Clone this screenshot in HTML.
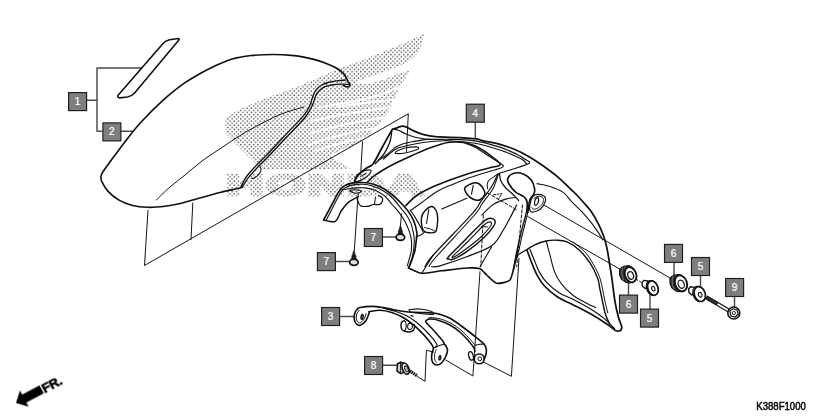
<!DOCTYPE html>
<html lang="en">
<head>
<meta charset="utf-8">
<title>Front fender parts diagram K388F1000</title>
<style>
html,body{margin:0;padding:0;background:#fff;}
body{width:840px;height:420px;overflow:hidden;font-family:"Liberation Sans",sans-serif;}
svg{display:block;}
.n{font-family:"Liberation Sans",sans-serif;font-size:10px;fill:#fff;stroke:#fff;stroke-width:0.22px;}
.code{font-family:"Liberation Sans",sans-serif;font-size:10.5px;fill:#000;stroke:#000;stroke-width:0.45px;}
.fr{font-family:"Liberation Sans",sans-serif;font-size:13px;font-weight:bold;fill:#000;}
.wm{font-family:"Liberation Sans",sans-serif;font-weight:bold;font-size:30px;}
</style>
</head>
<body>
<svg width="840" height="420" viewBox="0 0 840 420">
<defs>
<pattern id="dots" x="0" y="0" width="4.286" height="4.286" patternUnits="userSpaceOnUse">
<circle cx="2.88" cy="1" r="0.74" fill="#484848"/>
<circle cx="0.74" cy="3.14" r="0.74" fill="#484848"/>
</pattern>
</defs>
<rect width="840" height="420" fill="#fff"/>
<g id="watermark">

<path d="M225.5 118L236.4 111.1L247.2 105.7L257.9 101.4L268.6 97.1L279.3 93.4L290 89.3L300.7 85.4L310.8 80.8L323.3 75.8L333.3 70.9L345.4 66.3L361.4 60.4L382.9 51.8L404.3 43.2L424.4 33.8L419.3 50.7L414 57.1L411 60.5L409.8 70.4L405 78.9L400.7 84.3L398.3 87L397.3 92.5L394.5 99.5L391.8 103L390.5 107L389 111L384 117.3L381.2 121.4L376 127.8L374.6 129.5L369 135.5L366 137.2L361.5 142L352 146L340 150L330 156L338 161.5L351 168.6L293.6 169.4L262 169.8L245 153L225.6 133.5Z" fill="url(#dots)"/>
<path d="M355 82.3L366.8 77.5L374.3 75.4L382.9 72.2L391.4 68.9L400 65.7L408.6 61.4L413 58L412.5 70.2L409.5 70.8L398.6 73.8L387.9 78.1L377.2 81.3L370.7 83.4L362.2 84.4Z" fill="#fff"/>
<g fill="none" stroke="#fff" stroke-width="2.1" stroke-linecap="round">
<path d="M399 86.6L385.7 92.8L368.6 98.2L351.4 101.9L338 104L318 108"/>
<path d="M395.5 99.8L373.3 101.9L352.4 104.6L338 106.6"/>
<path d="M391.5 107L373 109.6L352.4 113L332.7 116.4L312 121"/>
<path d="M385 117.5L365 120.6L345.8 124.2L325 129.2L310 133.5"/>
<path d="M377 128L358.9 130.7L340 135.2L322 140.2L308 145"/>
<path d="M367 137.5L350 140.5L332 145.5L316 150.5"/>
</g>
<mask id="hondamask" maskUnits="userSpaceOnUse" x="215" y="165" width="220" height="40"><text class="wm" transform="translate(226.5 195.2) scale(1.7 0.97)" letter-spacing="1.4" fill="#fff" stroke="#fff" stroke-width="3" stroke-linejoin="miter">HONDA</text></mask>
<rect x="220" y="170" width="210" height="30" fill="url(#dots)" mask="url(#hondamask)"/>

</g>
<g id="lines" fill="none" stroke="#111" stroke-linecap="round" stroke-linejoin="round">
<path d="M87 100.3L97 100.3" stroke-width="1.43" stroke="#4a4a4a"/>
<path d="M141.3 68L97 68L97 131.3L102 131.3" stroke-width="1.43" stroke="#4a4a4a"/>
<path d="M120.5 131.3L132.5 131.3" stroke-width="1.43" stroke="#4a4a4a"/>
<path d="M475.3 122.5L475.3 137.5" stroke-width="1.43" stroke="#4a4a4a"/>
<path d="M340 316.5L354 316.5" stroke-width="1.43" stroke="#4a4a4a"/>
<path d="M383 365.3L397 365.3" stroke-width="1.43" stroke="#4a4a4a"/>
<path d="M383 237L396 237" stroke-width="1.43" stroke="#4a4a4a"/>
<path d="M336 261.5L349.5 261.5" stroke-width="1.43" stroke="#4a4a4a"/>
<path d="M628.5 283L628.5 295.5" stroke-width="1.43" stroke="#4a4a4a"/>
<path d="M650 294.5L650 309.2" stroke-width="1.43" stroke="#4a4a4a"/>
<path d="M674 262.5L674 275.5" stroke-width="1.43" stroke="#4a4a4a"/>
<path d="M700.5 275.5L700.5 286.7" stroke-width="1.43" stroke="#4a4a4a"/>
<path d="M734.5 296.3L734.5 307.5" stroke-width="1.43" stroke="#4a4a4a"/>
<path d="M178.4 38.5L169.5 39.8Q165 40.9 162.6 44L118.1 95.2Q116.9 97.3 119.5 97.9L127.5 97Q132 96 134.6 93L178.9 40Q179.6 38.7 178.4 38.5Z" stroke-width="1.59"/>
<path d="M242.5 186.5C242.1 186.8 243.8 187 240 188C236.2 189 227.9 190.5 220 192.5C212.1 194.5 199.5 198.1 192.5 200C185.5 201.9 182.6 203 178 204C173.4 205 170.1 205.6 165 206.2C159.9 206.8 153 207.5 147.4 207.3C141.8 207.1 136.4 206.4 131.6 205.2C126.8 204 122.5 202.2 118.6 199.9C114.7 197.6 110.8 194.3 108.1 191.4C105.4 188.5 103.4 184.7 102.2 182.3C101 179.9 100.8 178.8 100.9 177C101 175.2 101.2 174.6 102.9 171.8C104.7 169 107.5 165.3 111.4 160C115.3 154.7 121.4 146.4 126.4 140C131.4 133.6 135.3 128.4 141.4 121.8C147.5 115.2 155.8 106.8 162.9 100.4C170.1 94 177.2 88.2 184.3 83.2C191.4 78.2 198.6 74.2 205.7 70.4C212.8 66.7 221.4 62.9 227.1 60.7C232.8 58.5 235.9 58.1 240 57.2C244.1 56.3 245.9 56 251.4 55.5C256.9 55 265.8 54.5 272.9 54.5C280 54.5 288.9 55.1 294.3 55.6C299.7 56.1 301.4 56.7 305 57.4C308.6 58.1 311.9 58.8 315.7 59.9C319.4 61 324 62.5 327.5 63.9C331 65.3 334.1 66.7 336.7 68.3C339.3 69.9 341.6 71.6 343.3 73.3C345 75 345.9 76.9 346.7 78.3C347.4 79.7 347.3 80.8 347.8 81.7C348.3 82.6 349.4 83.1 349.7 83.8C350 84.5 350.1 85.3 349.7 85.8C349.3 86.3 348.6 87.1 347.5 87C346.4 86.9 344 85.7 343.3 85.4" stroke-width="1.65"/>
<path d="M345.5 80C344 80.1 339.6 80.4 336.7 80.8C333.8 81.2 330.8 81.8 328.3 82.5C325.8 83.2 323.6 83.9 321.7 85C319.8 86.1 318.1 87.5 316.7 89.2C315.3 90.9 314.4 92.4 313.3 95C312.2 97.6 311.7 101.5 310 105C308.3 108.5 307.8 110.5 303.3 115.9C298.9 121.3 289.6 130.5 283.3 137.2C277.1 143.9 270.4 151.1 265.8 155.9C261.2 160.7 259.1 162.3 255.8 165.9C252.5 169.5 248.3 173.9 245.8 177.5C243.3 181.1 241.6 185.7 240.8 187.3" stroke-width="1.32"/>
<path d="M348.3 84.4C346.9 84.4 342.8 84.1 340 84.2C337.2 84.3 334.2 84.6 331.7 85C329.2 85.4 327.1 85.7 325 86.7C322.9 87.7 320.7 89.3 319.2 90.8C317.7 92.3 316.9 93.1 315.8 95.5C314.7 97.9 314.3 101.3 312.5 105C310.7 108.7 309.6 111.9 305 117.5C300.4 123.1 291.2 132.1 285 138.8C278.8 145.5 272.1 152.7 267.5 157.5C262.9 162.3 260.8 163.9 257.5 167.5C254.2 171.1 249.9 175.7 247.5 178.8C245.1 181.9 243.6 185.1 242.8 186.3" stroke-width="1.32"/>
<path d="M260 166.5C260.2 167.1 261.3 168.6 261 170C260.7 171.4 259.6 173.6 258.3 175C257.1 176.4 254.6 177.6 253.5 178.2C252.4 178.8 252.1 178.3 251.8 178.3" stroke-width="1.10"/>
<path d="M156.3 200C158.6 197.8 165.2 191.2 170 187C174.8 182.8 179.7 179.3 185 175C190.3 170.7 196.2 165.4 202 161C207.8 156.6 214.2 152.7 220 148.8C225.8 144.9 231.2 141.1 237 137.5C242.8 133.9 247.8 130.8 255 127C262.2 123.2 271.9 117.8 280 114.5C288.1 111.2 299.8 108.2 303.8 107" stroke-width="0.99"/>
<path d="M148 210.5L144.5 265.5L408.3 113.7L406.5 151.5" stroke-width="0.99"/>
<path d="M192.8 203L191 239.5" stroke-width="0.99"/>
<path d="M362.5 141.7L360.8 171.7" stroke-width="0.99"/>
<path d="M354.6 182C354.7 181.6 354.7 180.8 355.2 179.8C355.7 178.8 356.4 177.2 357.5 175.8C358.6 174.5 360 173.1 361.7 171.7C363.4 170.3 365.6 168.8 367.5 167.5C369.4 166.2 370.8 167 373.2 163.8C375.6 160.6 378.6 153.9 381.7 148.3C384.8 142.8 389.6 133.7 391.7 130.5C393.8 127.3 392.4 129.7 394 129C395.6 128.3 399.2 126.6 401.2 126.3C403.2 126 403.8 126.1 406 126.9C408.2 127.7 411.3 129.8 414.3 131.1C417.3 132.4 420.2 133.7 423.8 134.6C427.4 135.5 431.3 136.2 435.7 136.7C440.1 137.1 445.4 137.1 450 137.3C454.6 137.5 458.9 137.6 463.3 137.8C467.7 138.1 472.9 138.3 476.2 138.8C479.5 139.3 479.3 139.9 483.3 140.8C487.3 141.7 494.8 142.9 500 144.3C505.2 145.7 509.5 147.3 514.3 149.3C519.1 151.3 523.8 153.7 528.6 156.4C533.4 159.1 538.1 162.4 542.9 165.7C547.6 169 552.8 172.8 557.1 176.4C561.4 180 565.3 184 568.6 187.1C571.9 190.2 574.2 192.3 576.8 195C579.4 197.7 581.6 200.2 584 203C586.4 205.8 588.8 208 591.2 211.6C593.6 215.2 596.7 220.5 598.6 224.3C600.5 228.1 601.7 231.2 602.9 234.3C604.1 237.4 605 240.3 605.7 242.9C606.4 245.5 606.7 246.8 607.3 250C607.9 253.2 608.6 257.5 609.3 262C610 266.5 610.8 270.4 611.7 277C612.7 283.6 613.9 295.1 615 301.7C616.1 308.3 617.2 312.5 618.3 316.7C619.4 320.9 621.3 324.4 621.7 326.7C622.1 329 620.7 329.9 620.5 330.5" stroke-width="1.76"/>
<path d="M391.7 131C391.6 131.9 391.5 134.3 391.1 136.4C390.7 138.5 390.4 140.8 389.3 143.6C388.2 146.4 386.3 150.3 384.5 153.1C382.7 155.9 380.2 158.4 378.6 160.2C377 162 375.6 163.2 375 163.8" stroke-width="1.32"/>
<path d="M394 129.3C394.8 129.5 396.8 129.7 398.8 130.5C400.8 131.3 403.4 132.9 406 134C408.6 135.1 411.3 136.2 414.3 137C417.3 137.8 420.2 138.4 423.8 138.8C427.4 139.2 431.3 139.3 435.7 139.4C440.1 139.5 443.4 139.1 450 139.3C456.6 139.5 466.7 139.5 475 140.8C483.3 142.1 493.1 145 500 147.2C506.9 149.4 512.5 152.2 516.7 154.2C520.9 156.2 523.1 157.6 525 159.2C526.9 160.8 532.1 161.6 528.3 163.8C524.4 166 506.9 170.8 501.9 172.5C496.9 174.2 499.3 173.1 498.3 174C497.3 174.9 497 176.2 496 178.1C495 180 493.8 182.8 492.4 185.2C491 187.6 489 190.4 487.6 192.4C486.2 194.4 485.2 195.5 484 197.1C482.8 198.7 482.5 199.1 480.5 201.9C478.5 204.7 480 205 472.1 213.8C464.2 222.7 441.2 246.2 433.3 255C425.4 263.8 426.4 264.8 425 266.7" stroke-width="1.21"/>
<path d="M378.6 160.2C379.8 159.4 383.3 157.3 385.7 155.5C388.1 153.7 391.3 150.8 392.9 149.5C394.4 148.2 393.3 148.5 395 147.6C396.7 146.7 400.5 144.8 403.3 143.8C406.1 142.8 408.5 142.4 411.7 141.8C414.9 141.1 419.4 140.5 422.5 140.1C425.6 139.7 428.8 139.4 430 139.3" stroke-width="1.10"/>
<path d="M383.3 159.1C385.3 157.5 391.8 151.6 395.2 149.5C398.6 147.4 399.2 147.6 403.6 146.5C408 145.4 415.3 143.7 421.4 142.8C427.5 141.9 435.2 141.3 440 141C444.8 140.7 444.2 140.4 450 140.8C455.8 141.2 466.7 141.8 475 143.3C483.3 144.8 493.1 147.8 500 150C506.9 152.2 512.9 155 516.7 156.7C520.5 158.4 521.3 158.8 523 160C524.7 161.2 526.1 163.5 526.7 164.2" stroke-width="1.10"/>
<path d="M395.2 152.7C395.4 152.2 395.8 151.5 397.6 150.7C399.4 149.9 402.8 148.3 406 147.7C409.2 147.1 414.6 146.8 416.7 146.9C418.8 147 418.7 147.7 418.8 148.1C418.9 148.5 418.6 149 417.5 149.5C416.4 150 414.2 150.7 411.9 151.3C409.6 151.9 406.2 152.9 403.6 153.3C401 153.7 397.8 153.6 396.4 153.5C395 153.4 395 153.2 395.2 152.7Z" stroke-width="1.10"/>
<path d="M367.6 181.9C368.6 181 370.7 178.5 373.3 176.5C375.9 174.5 379.6 172.1 383.1 170C386.6 167.9 389.9 166.1 394.5 163.8C399.1 161.5 405.5 158.5 411 156C416.5 153.5 422.5 150.8 427.5 148.8C432.5 146.8 437.4 145.3 441 144.2C444.6 143.1 446.9 142.7 449.2 142.3C451.5 141.9 452.5 141.9 455 141.9C457.5 141.9 461 141.8 464.3 142.4C467.6 143.1 471.8 144.5 475 145.8C478.2 147.2 480.6 148.8 483.3 150.5C486 152.2 488.5 153.9 491 155.8C493.5 157.7 496.8 160.3 498.3 161.7C499.8 163.1 500.2 163.5 500.2 164.2C500.2 164.9 499.8 165.5 498.3 166C496.8 166.5 493.7 166.7 491.2 167.3C488.7 167.9 487.4 168.2 483.3 169.4C479.2 170.6 472.2 172.4 466.7 174.2C461.1 176 455.6 177.9 450 180C444.4 182.1 438.6 184.2 433 186.8C427.4 189.4 421.2 192.3 416.7 195.5C412.1 198.7 407.5 204 405.7 205.7" stroke-width="1.54"/>
<path d="M463.3 142.6C465.2 143.4 470.8 145 475 147.2C479.2 149.4 483.9 153 488.3 155.8C492.8 158.6 499.2 162.4 501.7 164.2C504.1 166 503.4 165.8 503 166.5C502.6 167.2 502.8 167.4 499.5 168.5C496.2 169.6 488.8 171.6 483.3 173.3C477.8 175 472.1 176.8 466.7 178.7C461.3 180.6 456.1 182.9 451.2 185C446.2 187.1 442 188.5 437 191.5C432 194.5 425.4 199.8 421 203C416.6 206.2 412.2 209.2 410.5 210.5" stroke-width="1.10"/>
<path d="M323.6 220C325 217.4 329.3 209.3 331.9 204.5C334.5 199.7 337 194.5 339 191.4C341 188.3 341.6 187.5 343.8 186.1C346 184.7 348.9 183.7 352.1 183.1C355.3 182.5 359.3 182.3 362.9 182.5C366.5 182.7 370 183.2 373.6 184.3C377.2 185.4 380.9 187 384.3 189C387.7 191 390.6 193.4 393.8 196.2C397 199 401 202.9 403.6 205.7C406.2 208.5 407.6 210.4 409.3 212.9C411 215.4 412.5 218.3 413.6 220.7C414.7 223.1 415.1 224.8 415.7 227.1C416.3 229.4 416.9 232 417 234.3C417.1 236.6 416.5 238.4 416.2 241C415.9 243.6 415.5 247.5 415 250C414.5 252.5 414 253.5 413.2 256C412.4 258.5 410.8 263 410 265C409.2 267 408.8 267.3 408.5 267.8" stroke-width="1.65"/>
<path d="M326 220.5C327.3 218 331.3 210.2 333.7 205.7C336.1 201.1 338.3 196.2 340.2 193.2C342.1 190.2 342.8 189.3 345 187.9C347.2 186.5 350.3 185.5 353.3 184.9C356.3 184.3 359.7 184.1 362.9 184.3C366.1 184.5 369 185 372.4 186.1C375.8 187.2 379.7 188.8 383.1 190.8C386.5 192.8 389.7 195.2 392.6 198C395.5 200.8 398.4 205.1 400.7 207.9C403 210.7 404.7 212.5 406.4 215C408.1 217.5 409.6 220.2 410.7 222.9C411.8 225.6 412.5 228.6 413.1 231.4C413.7 234.2 414.2 236.9 414.3 240C414.4 243.1 414 247 413.6 250C413.2 253 412.8 255.2 412 258C411.2 260.8 409.5 265.1 409 266.5" stroke-width="1.10"/>
<path d="M342.6 189.6C343.4 189.5 345.2 189.3 347.4 189C349.6 188.7 352.7 188.1 355.7 187.9C358.7 187.7 362 187.5 365.2 187.9C368.4 188.3 371.6 188.9 374.8 190.2C378 191.5 381.4 193.2 384.3 195.6C387.2 198 389.6 201.6 392.1 204.5C394.6 207.4 397.2 210.1 399.3 212.9C401.4 215.7 403.3 218.3 405 221.4C406.7 224.5 408.2 228.3 409.3 231.4C410.4 234.5 411 236.9 411.4 240C411.8 243.1 411.6 247.3 411.4 250C411.2 252.7 410.7 253.8 410 256.4C409.3 259 407.8 264 407.4 265.5" stroke-width="1.10"/>
<path d="M323.6 220C325.6 220.2 332.3 222.9 335.3 221.3C338.3 219.7 339.2 213.7 341.4 210.5C343.6 207.3 346.2 204.2 348.6 202.1C351 200 354.1 198.9 355.7 198C357.3 197.1 358 196.8 358.5 196.5" stroke-width="1.43"/>
<path d="M349.8 191C349.6 190.4 353 189.8 355 189.8C357 189.8 361.5 190.6 361.7 191.2C361.9 191.8 358 193.2 356 193.2C354 193.2 350 191.6 349.8 191Z" stroke-width="1.10"/>
<path d="M356.9 198.6C357.5 199.8 358.7 204.4 360.5 205.7C362.3 207 365.4 206.5 367.6 206.3C369.8 206.1 371.6 204.8 373.6 204.5C375.6 204.2 378 205.1 379.5 204.5C381 203.9 382.1 202.2 382.5 201C382.9 199.8 382.6 198.3 381.9 197.4C381.2 196.5 378.9 195.9 378.3 195.6" stroke-width="1.21"/>
<path d="M375.5 197L374.5 204.3" stroke-width="0.99"/>
<path d="M355 180.5C354.9 179.4 356 176.6 357.5 175C359 173.4 361.8 171.8 364 171C366.2 170.2 369.9 169.8 370.8 170.3C371.7 170.8 370.6 172.6 369.5 174C368.4 175.4 365.9 177.3 364 178.5C362.1 179.7 359.5 181 358 181.3C356.5 181.6 355.1 181.6 355 180.5Z" stroke-width="1.10"/>
<path d="M360.5 176.5L366.5 173" stroke-width="0.99"/>
<path d="M358.1 193.8L354.3 250.8" stroke-width="0.99"/>
<path d="M401.5 214L400.4 226" stroke-width="0.99"/>
<path d="M465 187.6C466.3 186.1 470.9 183.5 473.3 182.9C475.7 182.3 477.5 182.8 479.3 184C481.1 185.2 483.1 188.2 484 190C484.9 191.8 485.2 193.2 484.6 194.8C484 196.4 482 198.6 480.5 199.5C479 200.4 477.5 200.5 475.7 200.1C473.9 199.7 471.5 198.5 469.8 197.1C468.1 195.7 466.4 193.4 465.6 191.8C464.8 190.2 463.7 189.1 465 187.6Z" stroke-width="1.54"/>
<path d="M473.3 185.2L471.5 194.2" stroke-width="1.10"/>
<path d="M431.5 206.5C433.3 206.3 434.8 208.3 435.8 210C436.8 211.7 437.4 214 437.6 216.7C437.8 219.4 437.6 223.4 437.2 226C436.8 228.6 436.6 230.9 435.3 232C434 233.1 431.4 232.9 429.5 232.8C427.6 232.7 425.5 232.4 424.2 231.2C422.9 230 422.1 227.9 421.7 225.5C421.3 223.1 421.1 219.4 421.6 217C422.1 214.6 423.2 212.8 424.8 211C426.4 209.2 429.7 206.7 431.5 206.5Z" stroke-width="1.43"/>
<path d="M410 210C410.8 211.2 413.2 214.2 415 217.1C416.8 219.9 419.4 224.7 420.7 227.1C422 229.5 422.5 230.7 422.9 231.4" stroke-width="1.10"/>
<path d="M415.9 237C416.7 236.7 419.3 235.8 420.7 235C422.1 234.2 423.9 232.5 424.5 232" stroke-width="1.10"/>
<path d="M428.8 209.5L426.5 223.5" stroke-width="1.10"/>
<path d="M424.5 227.5C425.5 227.8 428.8 228.4 430.5 229C432.2 229.6 434.2 230.9 435 231.3" stroke-width="0.99"/>
<path d="M441.8 209L466.8 198.3" stroke-width="1.10"/>
<path d="M498.3 174.5C497.5 176.7 495.2 184.2 493.6 187.6C492 191 490.8 192 488.8 194.8C486.8 197.6 484.1 200.9 481.7 204.3C479.3 207.7 482.1 206.2 474.5 215C466.9 223.8 443.6 248.4 436 257C428.4 265.6 430.2 264.9 429 266.5" stroke-width="1.10"/>
<path d="M499.3 173.4C498.5 173.9 496.2 175.1 494.5 176.3C492.8 177.5 490 179.1 488.8 180.5C487.6 181.9 487.4 183.1 487.2 184.5C487 185.9 487.5 188.1 487.6 188.8" stroke-width="1.04"/>
<path d="M499.5 173.9C499.7 175 499.8 178.3 500.7 180.5C501.6 182.7 503.1 184.9 504.9 187C506.7 189.1 509.5 191.2 511.4 193C513.3 194.8 515 196.4 516.2 197.7C517.4 199 518.2 200.2 518.6 200.7" stroke-width="1.21"/>
<path d="M481.7 215C483.7 213.2 489.4 207 493.6 204.3C497.8 201.6 502.9 200 506.7 198.9C510.5 197.8 514.6 197.9 516.2 197.7" stroke-width="1.10"/>
<path d="M527 210C527 208.6 527.5 203.9 527 201.7C526.5 199.5 525.9 198.5 524 196.9C522.1 195.3 518.2 194.2 515.7 192.1C513.2 189.9 510.3 186.3 509 184C507.7 181.7 507.1 179.9 507.9 178.1C508.7 176.3 511.2 174 513.8 173.3C516.4 172.6 520.3 172.7 523.3 173.9C526.3 175.1 529.8 178 531.7 180.5C533.6 183 534.2 186.6 534.6 188.8C535 191 534.6 192.2 534 193.6C533.4 195 532 196.2 531.2 197.5C530.4 198.8 530 199.2 529.4 201.7C528.8 204.2 528.1 210.6 527.8 212.4" stroke-width="1.65"/>
<path d="M527 210C526.9 210.4 527.1 209.8 526.4 212.4C525.7 215 523.9 221.7 522.9 225.5C521.9 229.3 521.5 230.6 520.5 235C519.5 239.4 517.9 246.2 516.7 252C515.5 257.8 513.9 267 513.3 270" stroke-width="1.32"/>
<path d="M527.8 212.4C527.2 214.7 525.5 222.1 524.5 226C523.5 229.9 523 231.7 522 236C521 240.3 519.1 249.3 518.5 252" stroke-width="1.10"/>
<path d="M532.4 196.9C533.6 195.1 535.1 194.4 537.1 194.3C539.1 194.2 542.9 194.9 544.3 196.1C545.6 197.3 545.8 199.6 545.2 201.7C544.6 203.8 542.6 207.1 540.7 208.8C538.8 210.5 535.4 211.7 533.6 212C531.8 212.3 530.6 212 530 210.8C529.4 209.6 529.4 207.3 529.8 205C530.2 202.7 531.2 198.7 532.4 196.9Z" stroke-width="1.21"/>
<path d="M534 198.5C534.7 198.1 536.5 196.5 538 196.3C539.5 196.2 541.9 196.7 542.8 197.6C543.7 198.5 543.8 200.2 543.3 201.7C542.8 203.2 541.2 205.5 539.7 206.8C538.2 208.1 535.3 209.2 534 209.3C532.7 209.4 532.2 207.8 531.8 207.5" stroke-width="0.99"/>
<path d="M534.6 204C534.5 203 534.8 200.6 535.3 199.5C535.8 198.4 537.2 197.6 537.8 197.6C538.3 197.6 538.6 198.6 538.6 199.5C538.6 200.4 538.3 202.3 537.8 203.3C537.3 204.3 536.3 205.2 535.8 205.3C535.3 205.4 534.7 205 534.6 204Z" stroke-width="1.21"/>
<path d="M544.3 205.2L669.2 277.5" stroke-width="0.99"/>
<path d="M527.6 216.5L620 269.2" stroke-width="0.99"/>
<path d="M537.1 183.6C539.2 184.1 545.7 185 550 186.4C554.3 187.8 559.3 189.6 562.9 192.1C566.5 194.6 568.1 197.9 571.4 201.4C574.7 204.9 579.6 209.3 582.9 212.9C586.2 216.5 588.8 219.6 591.4 222.9C594 226.2 596.7 230.1 598.6 232.9C600.5 235.8 602.2 238.8 602.9 240" stroke-width="1.10"/>
<path d="M448.3 257C451.2 253.6 460.9 244.2 466.7 238.3C472.5 232.4 479.4 225 483.3 221.7C487.2 218.4 488.1 218.5 490 218.3C491.9 218.2 494.4 219.4 495 220.8C495.6 222.2 495.2 223.8 493.3 226.7C491.4 229.6 487.7 234.1 483.3 238.3C478.9 242.5 471.7 248.2 466.7 251.7C461.7 255.2 456.2 258 453.3 259.2C450.4 260.4 449.8 259.4 449 259C448.2 258.6 445.4 260.4 448.3 257Z" stroke-width="1.43"/>
<path d="M453 256C455.2 253.5 462.8 246.7 468 241.5C473.2 236.3 480.5 228.2 484 225C487.5 221.8 487.8 222.3 489 222C490.2 221.7 491.3 222.2 491.5 223C491.7 223.8 491.8 224.7 490 227C488.2 229.3 485 233.3 481 237C477 240.7 470.3 245.8 466 249C461.7 252.2 457.2 255.3 455 256.5C452.8 257.7 450.8 258.5 453 256Z" stroke-width="1.10"/>
<path d="M481.5 226.5L487.5 227" stroke-width="0.99"/>
<path d="M431.7 266.7C433.1 266.6 434.2 267.5 440 265.8C445.8 264.1 458.1 260 466.7 256.7C475.3 253.4 485.6 250.2 491.7 245.8C497.8 241.4 499.1 236.8 503.3 230C507.5 223.2 514.5 209.2 516.7 205" stroke-width="1.21"/>
<path d="M491.7 246.7L480 266.7" stroke-width="1.10"/>
<path d="M483.3 215L480.8 266.7" stroke-width="0.99" stroke-dasharray="3 2"/>
<path d="M522.5 205L516.7 266.7" stroke-width="0.99" stroke-dasharray="3 2"/>
<path d="M487.6 193L517.4 210.2" stroke-width="0.99" stroke-dasharray="3 2"/>
<path d="M493.6 194.8L501.9 193.6L498.3 199.5" stroke-width="0.99" stroke-dasharray="2 1.5"/>
<path d="M408.5 267.8C409.8 268.4 418.4 273 421.7 273.3C425 273.6 437.2 271.3 441.7 270.8C446.2 270.3 462.9 268.2 466.7 268C470.5 267.8 478 268 480 268.7C482 269.4 485 273.5 486.7 275C488.4 276.5 494.4 282.8 496.7 283.3C499 283.8 508.2 282 510 280C511.8 278 514.2 266.3 515 263.3C515.8 260.3 518 251.3 518.3 250" stroke-width="1.65"/>
<path d="M421.7 273.3L433.3 255" stroke-width="1.10"/>
<path d="M480 271.7L476.7 320L472.9 376L445.7 360" stroke-width="0.99"/>
<path d="M519 258.3L515 320L511.4 376.3L483.6 362.1" stroke-width="0.99"/>
<path d="M515.7 256.2C517.3 255.2 522 252.4 525.2 250.5C528.4 248.6 531.3 246.4 534.8 244.8C538.3 243.2 542.5 241.8 546.2 241C549.9 240.2 553.5 240 557 240.2C560.5 240.3 563.5 240.3 567.1 241.9C570.7 243.5 574.8 246 578.6 249.5C582.4 253 586.8 258.1 590 262.9C593.2 267.7 595.9 273.7 597.6 278.1C599.3 282.5 599.2 286 600 289.5C600.8 293 601.2 295.2 602.1 299.3C603 303.4 604.1 310.2 605.4 314.3C606.6 318.4 608.9 322.3 609.6 323.9" stroke-width="1.43"/>
<path d="M572.9 241.9C575.1 243.8 582.4 248.9 586.2 253.3C590 257.8 593.3 264.2 595.7 268.6C598.1 273.1 599 274.9 600.5 280C602 285.1 603.3 293.5 604.5 299C605.7 304.5 607.2 310.7 607.8 313" stroke-width="0.99"/>
<path d="M546.2 241C546.8 243.4 548.6 250 550 255.2C551.4 260.4 552.9 267.6 554.8 272.4C556.7 277.2 558.4 280 561.4 283.8C564.4 287.6 568.8 292 572.9 295.2C577 298.4 582.4 300.8 586.2 302.9C590 305 594.1 306.8 595.7 307.6" stroke-width="1.10"/>
<path d="M527.1 250.5C527.8 252.2 529.4 257 531 261C532.6 265 534.5 270.2 536.7 274.3C538.9 278.4 540.8 281.9 544.3 285.7C547.8 289.5 553 293.9 557.6 297C562.2 300.1 566.4 301.3 572 304.2C577.6 307.1 585.3 310.8 591.4 314.3C597.5 317.8 604.5 322.6 608.6 325.3C612.7 328.1 614 329.9 616 330.8C618 331.7 619.8 330.6 620.5 330.5" stroke-width="1.65"/>
<path d="M530 249.5C530.6 251.1 532.2 255.2 533.8 259C535.4 262.8 537.3 268.4 539.5 272.4C541.7 276.4 543.8 279.5 547.1 282.9C550.4 286.3 555.2 290.3 559.5 293C563.8 295.7 567.7 296.6 573 299.3C578.3 302.1 586.2 306.3 591.4 309.5C596.6 312.7 600.4 315.4 604.3 318.6C608.1 321.8 612.8 326.9 614.5 328.5" stroke-width="1.21"/>
<path d="M369.2 311.7C369.1 312.1 369.3 312.7 368.7 314.2C368.1 315.7 367.1 319 365.8 320.8C364.5 322.6 362.3 324.4 360.8 325C359.3 325.6 357.8 325.2 356.7 324.2C355.6 323.2 354.5 321.1 354.2 319.2C353.9 317.2 354.5 314.1 355 312.5C355.5 310.9 356.4 310.1 357.2 309.3C358 308.5 357.6 308 360 307.5C362.4 307 367.8 306.3 371.7 306.3C375.6 306.3 379.4 306.9 383.3 307.5C387.2 308.1 390.8 309.2 395 310C399.2 310.8 404.1 311.6 408.3 312C412.5 312.4 415.8 312.3 420 312.5C424.2 312.7 430 312.7 433.3 313C436.6 313.3 437.2 313.5 440 314.4C442.8 315.3 446.7 316.5 450 318.3C453.3 320.1 456.7 322.6 460 325C463.3 327.4 466.9 330.1 470 332.5C473.1 334.9 475.9 337.2 478.3 339.2C480.7 341.1 482.9 342.5 484.2 344.2C485.5 345.9 486 347.4 486.3 349.2C486.6 351 486.3 353.1 485.8 355C485.3 356.9 483.9 359.6 483.5 360.5" stroke-width="1.65"/>
<path d="M366.2 313.5C365.8 314.5 364.8 317.8 363.8 319.3C362.8 320.8 361.3 322.2 360.3 322.7C359.3 323.1 358.5 322.7 357.8 322C357.1 321.3 356.3 319.9 356.2 318.5C356.1 317.1 356.5 314.7 357 313.3C357.5 311.9 358.9 310.7 359.3 310.2" stroke-width="0.99"/>
<path d="M361.2 318.7C361 318.2 361.1 316.6 361.3 315.9C361.5 315.2 362.3 314.3 362.6 314.4C362.9 314.4 363.2 315.4 363.2 316.2C363.2 317 362.7 318.6 362.4 319C362.1 319.4 361.4 319.2 361.2 318.7Z" stroke-width="1.54"/>
<path d="M369.2 311.7C371 311.5 376.2 310.2 380 310.3C383.8 310.4 388.1 311.4 391.7 312.5C395.3 313.6 398.4 314.9 401.7 316.7C405 318.5 408.6 320.9 411.7 323.3C414.8 325.7 417.2 328 420 330.8C422.8 333.6 426.1 337.2 428.3 340C430.5 342.8 432.7 345.3 433.3 347.5C433.9 349.7 432.3 351.2 432 353C431.7 354.8 431.4 356.8 431.6 358.5C431.8 360.2 432.1 361.9 433 363C433.9 364.1 435.6 365 437 365C438.4 365 440.1 364.3 441.5 363C442.9 361.7 444.5 359.1 445.5 357C446.5 354.9 447.4 352.3 447.5 350.5C447.6 348.7 446.6 347.1 446 346C445.4 344.9 444.5 344.5 444.2 344.2" stroke-width="1.65"/>
<path d="M383.3 308.3C385.5 308.9 392.8 310.4 396.7 311.7C400.6 312.9 403.4 314 406.7 315.8C410 317.6 413.6 320.1 416.7 322.5C419.8 324.9 422.2 327.2 425 330C427.8 332.8 431.3 336.7 433.3 339.2C435.3 341.7 436.7 343.6 437 345C437.3 346.4 435.6 347.1 435 347.5C434.4 347.9 433.6 347.5 433.3 347.5" stroke-width="1.10"/>
<path d="M435 347.5C435.8 347.1 438.5 345.9 440 345.3C441.5 344.8 443.5 344.4 444.2 344.2" stroke-width="1.10"/>
<path d="M439 359.3C438.9 358.8 438.9 357.5 439.1 356.9C439.3 356.3 440 355.7 440.3 355.8C440.6 355.9 440.9 356.8 440.8 357.4C440.8 358 440.3 359.4 440 359.7C439.7 360 439.1 359.8 439 359.3Z" stroke-width="1.43"/>
<path d="M436.2 349.5C435.9 350.4 434.8 353.2 434.6 355C434.4 356.8 434.5 358.7 434.8 360C435.1 361.3 436.3 362.2 436.6 362.6" stroke-width="0.88"/>
<path d="M444.2 344.2C444.1 343.8 444.3 343.1 443.3 341.7C442.3 340.3 440.2 338 438.3 335.8C436.4 333.6 433.7 330.5 431.7 328.3C429.7 326.1 427.2 323.8 426.2 322.5C425.2 321.2 425.2 321.4 425.8 320.8C426.4 320.2 427.8 319.1 430 319C432.2 318.9 435.7 319.4 439 320.4C442.3 321.4 446.3 322.9 450 325C453.7 327.1 457.8 330.2 461 333C464.2 335.8 466.8 339 469 341.5C471.2 344 473 346.3 474 348C475 349.7 474.8 350.9 475 351.5" stroke-width="1.54"/>
<path d="M428.3 318.3C428.8 318.2 429.1 317.5 431 317.6C432.9 317.7 436.7 317.9 440 318.8C443.3 319.7 447.3 321.2 451 323.2C454.7 325.2 458.8 328.2 462 331C465.2 333.8 468.3 337.4 470.5 339.8C472.7 342.2 474.5 344.6 475.3 345.5" stroke-width="0.99"/>
<path d="M475 345.2C475.8 345 478.5 344.4 480 344.2C481.5 344 483.5 344.2 484.2 344.2" stroke-width="1.10"/>
<path d="M409.3 310.3C409.2 309.9 408.2 309.7 410 309.5C411.8 309.3 416.4 308.7 420 309C423.6 309.3 429.5 310.8 431.7 311.5C433.9 312.2 433.2 313 433.3 313.5C433.4 314 434.7 314.5 432.5 314.5C430.3 314.5 423.6 313.9 420 313.5C416.4 313.1 412.6 312.5 410.8 312C409 311.5 409.4 310.7 409.3 310.3Z" stroke-width="1.10"/>
<path d="M411 315.6L413 316.2" stroke-width="1.32"/>
<path d="M404 320.7C403.6 320.9 402.3 321.2 401.8 322C401.3 322.8 401 324.2 401 325.5C401 326.8 401.5 328.6 402 329.5C402.5 330.4 403 330.6 404.2 331C405.4 331.4 407.5 332.1 409 332C410.5 331.9 412.1 331.4 413 330.6C413.9 329.8 414.4 328.4 414.6 327.4C414.8 326.4 414.1 325.2 414 324.8" stroke-width="1.43"/>
<path d="M404 320.7C404.3 320.9 405.2 321.4 405.6 322.2C406 323 406.2 324.4 406.2 325.6C406.2 326.8 405.9 328.3 405.6 329.2C405.3 330.1 404.4 330.7 404.2 331" stroke-width="1.10"/>
<path d="M407.6 327C407.6 326.2 407.7 325 408.1 324.4C408.5 323.8 409.5 323.3 410.2 323.4C410.9 323.4 411.9 324 412.2 324.7C412.5 325.4 412.5 326.8 412.2 327.6C411.9 328.4 411 329.2 410.4 329.4C409.8 329.6 408.9 329.4 408.4 329C407.9 328.6 407.7 327.8 407.6 327Z" stroke-width="1.10"/>
<path d="M417.1 376.4L425 381.4L426.4 350.2L433.6 352.1" stroke-width="0.99"/>
</g>
<g id="extra" style="filter:grayscale(1)">

<g id="screw7a" transform="translate(400.4 235.4)"><path d="M0 -9.8L-1.3 -7.2L-0.9 -6.6L-2.4 -4L-1.8 -3.4L-3.2 -0.6L3.2 -0.6L1.8 -3.4L2.4 -4L0.9 -6.6L1.3 -7.2Z" fill="#1a1a1a" stroke="#1a1a1a" stroke-width="0.5"/><ellipse cx="0" cy="1.9" rx="4.3" ry="3.1" fill="#ddd" stroke="#111" stroke-width="1.7"/></g>
<g id="screw7b" transform="translate(353.9 260.4)"><path d="M0 -9.8L-1.3 -7.2L-0.9 -6.6L-2.4 -4L-1.8 -3.4L-3.2 -0.6L3.2 -0.6L1.8 -3.4L2.4 -4L0.9 -6.6L1.3 -7.2Z" fill="#1a1a1a" stroke="#1a1a1a" stroke-width="0.5"/><ellipse cx="0" cy="1.9" rx="4.3" ry="3.1" fill="#ddd" stroke="#111" stroke-width="1.7"/></g>
<g id="bolt8" stroke="#111" fill="#fff">
<path d="M406.2 368.4L417.3 376" stroke="#1c1c1c" stroke-width="3.1" stroke-dasharray="1.7 0.5" fill="none"/>
<path d="M397.4 364L400.6 362.2L404.6 364L404.2 372L400.8 373.6L397 371.2Z" stroke-width="1.5" fill="#cfcfcf"/>
<path d="M400.6 362.2L400.4 373.4" stroke-width="0.9"/>
<ellipse cx="405.6" cy="368.6" rx="3.1" ry="5.9" transform="rotate(-22 405.6 368.6)" stroke-width="1.7"/>
<ellipse cx="406.4" cy="368.9" rx="1.6" ry="3.2" transform="rotate(-22 406.4 368.9)" stroke-width="0.9" fill="#bbb"/>
</g>
<g id="boss3" stroke="#111" fill="#fff">
<ellipse cx="471" cy="355.9" rx="2.2" ry="4.4" transform="rotate(-15 471 355.9)" stroke-width="1.3"/>
<circle cx="479.2" cy="358.9" r="4.9" stroke-width="1.6"/>
<circle cx="479.8" cy="358.8" r="1.9" stroke-width="1"/>
</g>
<g id="grommets" stroke="#111">
<path d="M619.5 269L623.5 266.2L629.5 265.6L631 267L631 283L626 282.6L621.3 279.4L619.6 275Z" fill="#2a2a2a" stroke-width="1"/>
<path d="M622.4 267.6Q620.4 273 623.6 280.4M625.4 266.4Q623.2 273 626.8 281.8" fill="none" stroke="#9a9a9a" stroke-width="0.7"/>
<ellipse cx="630.6" cy="274.7" rx="5.6" ry="7.9" transform="rotate(-20 630.6 274.7)" fill="#fff" stroke-width="1.9"/>
<ellipse cx="630.7" cy="275.5" rx="2.8" ry="3.9" transform="rotate(-20 630.7 275.5)" fill="#fff" stroke-width="1.2"/>
<path d="M669.8 277.8L674 275L680 274.4L681.5 275.8L681.5 291.8L676.5 291.4L671.8 288.2L670 283.8Z" fill="#2a2a2a" stroke-width="1"/>
<path d="M672.9 276.4Q670.9 281.8 674.1 289.2M675.9 275.2Q673.7 281.8 677.3 290.6" fill="none" stroke="#9a9a9a" stroke-width="0.7"/>
<ellipse cx="681" cy="283.3" rx="5.9" ry="8.2" transform="rotate(-20 681 283.3)" fill="#fff" stroke-width="1.9"/>
<ellipse cx="681.2" cy="284.2" rx="3" ry="4.2" transform="rotate(-20 681.2 284.2)" fill="#fff" stroke-width="1.2"/>
</g>
<g id="collars" stroke="#111" fill="#fff">
<path d="M648 281L643.8 280.4L642 282.6L642.4 286.2L645 288.4L649 288.4Z" stroke-width="1.4"/>
<ellipse cx="651.8" cy="287.9" rx="5.2" ry="7.5" transform="rotate(-20 651.8 287.9)" stroke-width="1.3"/>
<ellipse cx="652.9" cy="288.1" rx="5.1" ry="7.4" transform="rotate(-20 652.9 288.1)" stroke-width="1.7"/>
<ellipse cx="653.3" cy="288.7" rx="1.6" ry="2.3" transform="rotate(-20 653.3 288.7)" stroke-width="1.1"/>
<path d="M694.6 287.4L690.4 286.8L688.6 289L689 292.6L691.6 294.8L695.6 294.8Z" stroke-width="1.4"/>
<ellipse cx="698.6" cy="293.9" rx="5.5" ry="7.7" transform="rotate(-20 698.6 293.9)" stroke-width="1.3"/>
<ellipse cx="699.8" cy="294.1" rx="5.4" ry="7.6" transform="rotate(-20 699.8 294.1)" stroke-width="1.7"/>
<ellipse cx="700.2" cy="294.8" rx="1.7" ry="2.4" transform="rotate(-20 700.2 294.8)" stroke-width="1.1"/>
</g>
<g id="bolt9" stroke="#111">
<path d="M707.4 296.3L729.4 309.2L727.9 311.8L705.9 298.9Z" fill="#fff" stroke-width="1.2"/>
<path d="M707.4 296.3L718 302.5L716.5 305.1L705.9 298.9Z" fill="#333" stroke-width="0.8"/>
<circle cx="733.8" cy="313" r="6" fill="#fff" stroke-width="1.6"/>
<path d="M729.8 311L733 308.8L737 310L738.2 314L735.2 317L731 316Z" fill="#fff" stroke-width="1.2"/>
<circle cx="733.9" cy="313" r="1.6" fill="#fff" stroke-width="0.9"/>
</g>
<path d="M635.8 279.2L641.7 282.5" stroke="#111" stroke-width="1" stroke-dasharray="2.5 1.5"/>
<text class="code" x="756.3" y="410" textLength="49.5" lengthAdjust="spacingAndGlyphs">K388F1000</text>
<g transform="translate(16 403) rotate(-28)">
<path d="M0 0L9.4 -9.3L9.4 -4.5L29 -4.5L29 4.5L9.4 4.5L9.4 9.3Z" fill="#000"/>
<text class="fr" x="30" y="4.6" stroke="#000" stroke-width="0.6">FR.</text>
</g>

</g>
<g id="labels" style="filter:grayscale(1)">
<g transform="translate(68.6 92.6)"><rect x="0" y="0" width="18" height="18" fill="#7e7e7e" stroke="#1c1c1c" stroke-width="1.15"/><text x="9" y="12.6" text-anchor="middle" class="n">1</text></g>
<g transform="translate(102.9 122.9)"><rect x="0" y="0" width="18" height="18" fill="#7e7e7e" stroke="#1c1c1c" stroke-width="1.15"/><text x="9" y="12.6" text-anchor="middle" class="n">2</text></g>
<g transform="translate(321.6 307.5)"><rect x="0" y="0" width="18" height="18" fill="#7e7e7e" stroke="#1c1c1c" stroke-width="1.15"/><text x="9" y="12.6" text-anchor="middle" class="n">3</text></g>
<g transform="translate(466.3 104.2)"><rect x="0" y="0" width="18" height="18" fill="#7e7e7e" stroke="#1c1c1c" stroke-width="1.15"/><text x="9" y="12.6" text-anchor="middle" class="n">4</text></g>
<g transform="translate(691.5 257.5)"><rect x="0" y="0" width="18" height="18" fill="#7e7e7e" stroke="#1c1c1c" stroke-width="1.15"/><text x="9" y="12.6" text-anchor="middle" class="n">5</text></g>
<g transform="translate(640.5 309.1)"><rect x="0" y="0" width="18" height="18" fill="#7e7e7e" stroke="#1c1c1c" stroke-width="1.15"/><text x="9" y="12.6" text-anchor="middle" class="n">5</text></g>
<g transform="translate(664.5 244.4)"><rect x="0" y="0" width="18" height="18" fill="#7e7e7e" stroke="#1c1c1c" stroke-width="1.15"/><text x="9" y="12.6" text-anchor="middle" class="n">6</text></g>
<g transform="translate(619.5 295.1)"><rect x="0" y="0" width="18" height="18" fill="#7e7e7e" stroke="#1c1c1c" stroke-width="1.15"/><text x="9" y="12.6" text-anchor="middle" class="n">6</text></g>
<g transform="translate(364.4 228.5)"><rect x="0" y="0" width="18" height="18" fill="#7e7e7e" stroke="#1c1c1c" stroke-width="1.15"/><text x="9" y="12.6" text-anchor="middle" class="n">7</text></g>
<g transform="translate(317.4 252.6)"><rect x="0" y="0" width="18" height="18" fill="#7e7e7e" stroke="#1c1c1c" stroke-width="1.15"/><text x="9" y="12.6" text-anchor="middle" class="n">7</text></g>
<g transform="translate(364.6 356.5)"><rect x="0" y="0" width="18" height="18" fill="#7e7e7e" stroke="#1c1c1c" stroke-width="1.15"/><text x="9" y="12.6" text-anchor="middle" class="n">8</text></g>
<g transform="translate(725.6 278.5)"><rect x="0" y="0" width="18" height="18" fill="#7e7e7e" stroke="#1c1c1c" stroke-width="1.15"/><text x="9" y="12.6" text-anchor="middle" class="n">9</text></g>
</g>
</svg>
</body>
</html>
